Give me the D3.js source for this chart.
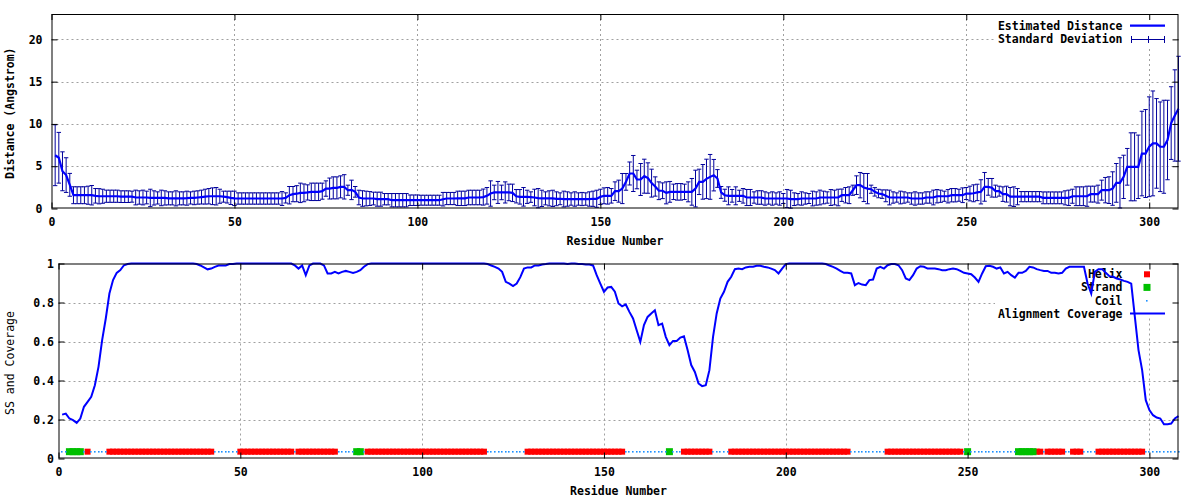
<!DOCTYPE html>
<html><head><meta charset="utf-8">
<script src="https://cdn.jsdelivr.net/npm/d3@7/dist/d3.min.js"></script>
<style>
body{margin:0;background:#fff}
svg{display:block}
text{font-family:"DejaVu Sans Mono",monospace;}
</style>
</head><body>
<svg id="chart" width="1200" height="500"></svg>
<script>
// ---------------- data (one value per residue, residue = index + 1) ----------------
const distance = [
6.3,6.0,4.4,3.95,2.8,1.57,1.57,1.57,1.57,1.57,
1.57,1.5,1.45,1.45,1.45,1.45,1.45,1.45,1.4,1.4,
1.4,1.4,1.3,1.3,1.3,1.3,1.25,1.25,1.25,1.25,
1.25,1.2,1.2,1.2,1.2,1.2,1.22,1.25,1.25,1.3,
1.35,1.4,1.45,1.45,1.45,1.45,1.4,1.35,1.26,1.2,
1.18,1.18,1.18,1.18,1.18,1.18,1.18,1.18,1.18,1.18,
1.18,1.18,1.18,1.25,1.57,1.7,1.75,1.85,1.85,1.9,
1.97,1.97,1.97,2.05,2.36,2.36,2.44,2.44,2.56,2.56,
2.16,2.2,1.97,1.3,1.18,1.18,1.18,1.18,1.1,1.1,
1.1,1.1,0.98,0.98,0.98,0.98,0.98,0.98,0.98,0.98,
0.98,0.98,0.98,0.98,0.98,0.98,1.1,1.18,1.18,1.18,
1.2,1.2,1.2,1.3,1.3,1.3,1.3,1.35,1.5,1.77,
1.9,1.9,1.9,1.9,1.9,1.85,1.45,1.38,1.38,1.38,
1.35,1.3,1.22,1.2,1.2,1.2,1.2,1.15,1.15,1.12,
1.12,1.12,1.12,1.12,1.12,1.12,1.12,1.15,1.15,1.38,
1.5,1.5,1.5,2.05,2.05,2.36,3.15,4.14,4.14,3.43,
3.43,3.82,3.6,3.0,2.6,2.1,2.1,1.85,1.97,1.97,
1.97,1.97,1.97,1.97,1.97,2.36,3.15,3.15,3.5,3.74,
3.94,3.55,1.9,1.57,1.5,1.5,1.5,1.5,1.5,1.3,
1.3,1.3,1.3,1.3,1.18,1.18,1.18,1.18,1.18,1.18,
1.18,1.1,1.1,1.1,1.18,1.18,1.18,1.18,1.18,1.3,
1.3,1.3,1.3,1.3,1.3,1.57,1.57,1.57,2.16,2.76,
2.76,2.48,2.35,2.28,1.97,1.77,1.7,1.5,1.3,1.3,
1.3,1.3,1.3,1.3,1.18,1.18,1.18,1.18,1.3,1.3,
1.3,1.45,1.45,1.45,1.45,1.57,1.57,1.57,1.57,1.77,
1.77,1.8,1.9,1.97,2.56,2.56,2.45,2.05,2.05,1.7,
1.7,1.4,1.4,1.4,1.4,1.4,1.4,1.4,1.4,1.4,
1.26,1.26,1.26,1.26,1.26,1.26,1.26,1.26,1.45,1.45,
1.45,1.45,1.45,1.7,1.7,1.7,2.17,2.17,2.17,2.36,
3.03,3.03,3.74,4.93,4.93,4.93,4.93,6.5,6.5,7.3,
7.7,7.7,7.3,7.3,8.1,10.1,11.0,11.8
];
const deviation = [
3.6,3.0,2.3,2.05,1.35,1.0,1.0,1.0,1.0,1.07,
1.15,0.86,0.9,0.83,0.72,0.72,0.72,0.72,0.69,0.69,
0.69,0.65,0.87,0.79,0.87,0.75,1.03,0.84,0.72,0.92,
0.84,0.77,0.77,0.89,0.77,0.77,0.83,0.72,0.8,0.79,
0.82,0.88,0.91,0.99,1.03,0.83,0.65,0.7,0.79,0.85,
0.67,0.67,0.67,0.67,0.67,0.67,0.67,0.67,0.67,0.67,
0.67,0.67,0.82,0.6,1.03,0.9,0.95,1.15,1.05,0.9,
1.03,1.03,1.03,0.95,0.91,1.24,1.3,1.3,1.3,1.44,
0.6,1.15,0.63,0.86,0.92,0.87,0.82,0.75,0.83,0.83,
0.67,0.67,0.79,0.79,0.79,0.79,0.79,0.62,0.62,0.62,
0.59,0.59,0.59,0.59,0.59,0.59,0.8,0.72,0.72,0.72,
0.85,0.85,0.85,0.86,0.86,0.86,0.86,0.95,0.98,1.5,
0.86,1.3,0.86,1.25,0.98,1.03,0.79,0.86,1.1,0.78,
0.62,0.98,1.14,0.96,0.77,0.89,0.96,0.82,0.7,0.93,
0.85,0.73,0.85,0.73,0.78,0.73,0.85,0.9,1.01,0.9,
0.94,0.98,0.86,1.1,1.3,1.78,0.99,1.36,2.13,1.1,
1.89,2.01,1.8,1.65,1.14,1.05,0.93,1.3,1.23,0.91,
0.98,0.98,0.91,1.18,1.58,2.17,1.5,2.05,2.33,2.65,
1.86,1.05,0.7,0.71,1.06,0.75,1.06,0.66,0.86,0.95,
0.95,0.67,0.8,0.8,0.79,0.67,0.79,0.67,0.79,0.59,
1.07,1.06,0.75,0.67,0.79,0.67,0.59,0.87,0.79,0.87,
0.75,0.67,0.94,0.87,0.98,0.73,0.91,0.99,0.6,1.1,
1.5,1.66,1.79,0.48,0.5,0.5,0.5,0.7,0.87,0.67,
0.55,0.75,0.67,0.55,0.67,0.79,0.67,0.67,0.67,0.67,
0.87,0.79,0.72,0.6,0.79,0.79,0.79,0.71,0.87,0.71,
0.87,1.0,0.97,1.43,1.7,0.99,1.1,0.71,0.59,0.86,
0.94,1.08,1.16,0.96,0.6,0.6,0.6,0.6,0.6,0.6,
0.7,0.7,0.7,0.7,0.7,0.7,0.83,0.91,0.83,1.11,
1.11,1.11,1.19,0.94,0.94,1.06,1.18,1.5,1.58,1.98,
2.29,2.97,2.56,2.17,4.02,4.02,3.75,5.0,5.2,5.9,
6.2,5.3,5.3,5.5,4.7,4.3,5.4,6.2
];
const coverage = [
0.225,0.23,0.205,0.197,0.183,0.205,0.265,0.29,0.316,0.376,
0.47,0.607,0.718,0.846,0.915,0.952,0.966,0.991,0.997,1,
1,1,1,1,1,1,1,1,1,1,
1,1,1,1,1,1,1,0.997,0.99,0.98,
0.97,0.974,0.983,0.99,0.99,0.99,0.997,0.997,1,1,
1,1,1,1,1,1,1,1,1,1,
1,1,1,1,0.99,0.974,0.99,0.94,0.99,1,
1,1,0.99,0.949,0.949,0.957,0.949,0.957,0.962,0.957,
0.952,0.957,0.966,0.983,0.997,1,1,1,1,1,
1,1,1,1,1,1,1,1,1,1,
1,1,1,1,1,1,1,1,1,1,
1,1,1,1,1,1,1,0.997,0.99,0.983,
0.974,0.957,0.906,0.897,0.884,0.897,0.93,0.974,0.98,0.98,
0.99,0.99,0.995,0.997,1,1,1,1,1,0.997,
1,1,0.997,0.997,0.995,0.995,0.99,0.94,0.897,0.855,
0.877,0.88,0.855,0.795,0.78,0.79,0.752,0.718,0.658,0.598,
0.684,0.726,0.744,0.76,0.684,0.692,0.624,0.581,0.603,0.603,
0.62,0.627,0.556,0.479,0.444,0.385,0.371,0.376,0.453,0.624,
0.744,0.82,0.855,0.906,0.932,0.971,0.974,0.971,0.98,0.983,
0.983,0.988,0.988,0.983,0.98,0.974,0.966,0.949,0.974,0.997,
1,1,1,1,1,1,1,1,1,1,
0.997,0.99,0.983,0.974,0.962,0.952,0.952,0.949,0.889,0.9,
0.892,0.889,0.915,0.918,0.974,0.983,0.974,0.991,0.997,0.997,
0.991,0.966,0.923,0.915,0.94,0.974,0.986,0.983,0.974,0.974,
0.974,0.971,0.966,0.966,0.971,0.974,0.971,0.962,0.952,0.949,
0.945,0.928,0.906,0.949,0.986,0.988,0.983,0.974,0.98,0.949,
0.957,0.94,0.928,0.952,0.952,0.962,0.983,0.98,0.971,0.966,
0.962,0.962,0.952,0.952,0.949,0.952,0.974,0.983,0.983,0.983,
0.983,0.983,0.897,0.846,0.957,0.971,0.971,0.952,0.935,0.932,
0.923,0.918,0.911,0.906,0.897,0.726,0.556,0.453,0.299,0.248,
0.222,0.21,0.205,0.176,0.176,0.179,0.205,0.217
];
// secondary structure as runs: [type, number of residues]
const ssRuns = [
["C",2],["E",4],["C",1],["H",1],["C",5],["H",29],["C",7],["H",15],["C",1],["H",11],
["C",5],["E",2],["C",1],["H",33],["C",11],["H",27],["C",12],["E",1],["C",3],["H",8],
["C",5],["H",33],["C",10],["H",21],["C",1],["E",1],["C",13],["E",5],["H",2],["C",1],
["H",5],["C",2],["H",3],["C",4],["H",13],["C",10]
];
const ssLevel = 0.035;
const residueTicks = [0,50,100,150,200,250,300];
const distTicks = [0,5,10,15,20];
const covTicks = [0,0.2,0.4,0.6,0.8,1];
const covTickLabels = ["0","0.2","0.4","0.6","0.8","1"];
const topLegend = ["Estimated Distance","Standard Deviation"];
const bottomLegend = ["Helix","Strand","Coil","Alignment Coverage"];

// ---------------- derived records ----------------
const ss = [];
ssRuns.forEach(([t,n]) => { for (let i=0;i<n;i++) ss.push(t); });
const rows = distance.map((d,i) => ({res:i+1, d, sd:deviation[i], cov:coverage[i], ss:ss[i]}));

const svg = d3.select("#chart");
const FONT = "DejaVu Sans Mono, monospace";
const FS = "11.5px";
const gridColor = "#a0a0a0";
const coilColor = "#1e90ff";

function panel(cfg){
  const g = svg.append("g");
  const x = d3.scaleLinear().domain([0,308]).range([cfg.left, cfg.right]);
  const y = d3.scaleLinear().domain(cfg.ydom).range([cfg.bottom, cfg.top]);
  g.append("g").selectAll("line").data(residueTicks.filter(t=>t>0&&t<308)).join("line")
    .attr("x1",d=>Math.round(x(d))+0.5).attr("x2",d=>Math.round(x(d))+0.5)
    .attr("y1",cfg.top).attr("y2",cfg.bottom)
    .attr("stroke",gridColor).attr("stroke-width",1).attr("stroke-dasharray","2,3");
  g.append("g").selectAll("line").data(cfg.yticks.filter(t=>t>cfg.ydom[0]&&t<cfg.ydom[1])).join("line")
    .attr("y1",d=>Math.round(y(d))+0.5).attr("y2",d=>Math.round(y(d))+0.5)
    .attr("x1",cfg.left).attr("x2",cfg.right)
    .attr("stroke",gridColor).attr("stroke-width",1).attr("stroke-dasharray","2,3");
  // opaque key background
  g.append("rect").attr("x",cfg.keyBox[0]).attr("y",cfg.top+1)
    .attr("width",cfg.right-cfg.keyBox[0]-1).attr("height",cfg.keyBox[1]-cfg.top)
    .attr("fill","#fff");
  return {g,x,y};
}

function frameAndAxes(p, cfg){
  const {g,x,y} = p;
  g.append("rect").attr("x",cfg.left+0.5).attr("y",cfg.top+0.5)
    .attr("width",cfg.right-cfg.left-1).attr("height",cfg.bottom-cfg.top-1)
    .attr("fill","none").attr("stroke","#000").attr("stroke-width",1);
  const ax = [
    g.append("g").attr("transform",`translate(0,${cfg.bottom})`)
      .call(d3.axisBottom(x).tickValues(residueTicks).tickSize(-6).tickPadding(9).tickFormat(d3.format("d"))),
    g.append("g").attr("transform",`translate(0,${cfg.top})`)
      .call(d3.axisTop(x).tickValues(residueTicks).tickSize(-6).tickFormat("")),
    g.append("g").attr("transform",`translate(${cfg.left},0)`)
      .call(d3.axisLeft(y).tickValues(cfg.yticks).tickSize(-6).tickPadding(cfg.ypad).tickFormat((d,i)=>cfg.ylabels[i])),
    g.append("g").attr("transform",`translate(${cfg.right},0)`)
      .call(d3.axisRight(y).tickValues(cfg.yticks).tickSize(-6).tickFormat(""))
  ];
  ax.forEach(a => {
    a.select(".domain").remove();
    a.selectAll("line").attr("stroke","#000");
    a.selectAll("text").attr("font-family",FONT).attr("font-size",FS).attr("font-weight","bold").attr("fill","#000");
  });
  g.append("text").attr("x",(cfg.left+cfg.right)/2).attr("y",cfg.bottom+36.5)
    .attr("text-anchor","middle").attr("font-family",FONT).attr("font-size",FS).attr("font-weight","bold")
    .text("Residue Number");
  g.append("text").attr("transform",`translate(14,${(cfg.top+cfg.bottom)/2+2}) rotate(-90)`)
    .attr("text-anchor","middle").attr("font-family",FONT).attr("font-size",FS)
    .attr("font-weight",cfg.ytitleWeight).text(cfg.ytitle);
}

// ---------------- top panel ----------------
const topCfg = {left:51.5,right:1178.5,top:14,bottom:208.5,ydom:[0,23],yticks:distTicks,
  ylabels:distTicks.map(String),ypad:9,keyBox:[995,45],ytitle:"Distance (Angstrom)",ytitleWeight:"bold"};
const pt = panel(topCfg);
{
  const {g,x,y} = pt;
  const eb = g.append("g").attr("stroke","#00009c").attr("stroke-width",1).attr("fill","none");
  const bars = eb.selectAll("g").data(rows).join("g");
  bars.append("line").attr("x1",d=>x(d.res)).attr("x2",d=>x(d.res))
    .attr("y1",d=>y(d.d-d.sd)).attr("y2",d=>y(d.d+d.sd));
  bars.append("line").attr("x1",d=>x(d.res)-2.2).attr("x2",d=>x(d.res)+2.2)
    .attr("y1",d=>y(d.d+d.sd)).attr("y2",d=>y(d.d+d.sd));
  bars.append("line").attr("x1",d=>x(d.res)-2.2).attr("x2",d=>x(d.res)+2.2)
    .attr("y1",d=>y(d.d-d.sd)).attr("y2",d=>y(d.d-d.sd));
  g.append("path").datum(rows)
    .attr("d",d3.line().x(d=>x(d.res)).y(d=>y(d.d)))
    .attr("fill","none").attr("stroke","#0000ff").attr("stroke-width",2.2);
  frameAndAxes(pt, topCfg);
  const lg = g.append("g").attr("font-family",FONT).attr("font-size",FS).attr("font-weight","bold");
  lg.selectAll("text").data(topLegend).join("text")
    .attr("x",1122.5).attr("y",(d,i)=>25.7+i*13.3).attr("dy","0.35em")
    .attr("text-anchor","end").text(d=>d);
  g.append("line").attr("x1",1130).attr("x2",1165).attr("y1",25.7).attr("y2",25.7)
    .attr("stroke","#0000ff").attr("stroke-width",2.2);
  const ly = 39;
  const s = g.append("g").attr("stroke","#00009c").attr("stroke-width",1);
  s.append("line").attr("x1",1131).attr("x2",1165).attr("y1",ly+0.5).attr("y2",ly+0.5);
  [1131.5,1148.5,1164.5].forEach(xx=>{
    s.append("line").attr("x1",xx).attr("x2",xx).attr("y1",ly-3).attr("y2",ly+4);
  });
}

// ---------------- bottom panel ----------------
const botCfg = {left:58.5,right:1178.5,top:263.5,bottom:458.5,ydom:[0,1],yticks:covTicks,
  ylabels:covTickLabels,ypad:4.5,keyBox:[995,317],ytitle:"SS and Coverage",ytitleWeight:"normal"};
const pb = panel(botCfg);
{
  const {g,x,y} = pb;
  const lg = g.append("g").attr("font-family",FONT).attr("font-size",FS).attr("font-weight","bold");
  lg.selectAll("text").data(bottomLegend).join("text")
    .attr("x",1122.5).attr("y",(d,i)=>274.3+i*13.1).attr("dy","0.35em")
    .attr("text-anchor","end").text(d=>d);
  const yy = y(ssLevel);
  g.append("g").selectAll("rect").data(rows.filter(d=>d.ss==="H")).join("rect")
    .attr("x",d=>x(d.res)-3).attr("y",yy-3).attr("width",6).attr("height",6).attr("fill","#ff0000");
  g.append("g").selectAll("rect").data(rows.filter(d=>d.ss==="E")).join("rect")
    .attr("x",d=>x(d.res)-3.5).attr("y",yy-3.5).attr("width",7).attr("height",7).attr("fill","#00c000");
  g.append("g").selectAll("rect").data(rows.filter(d=>d.ss==="C")).join("rect")
    .attr("x",d=>Math.round(x(d.res))-1).attr("y",Math.round(yy)-1).attr("width",1.6).attr("height",1.6).attr("fill",coilColor);
  g.append("rect").attr("x",1144).attr("y",274.3-3).attr("width",6).attr("height",6).attr("fill","#ff0000");
  g.append("rect").attr("x",1143.5).attr("y",287.4-3.5).attr("width",7).attr("height",7).attr("fill","#00c000");
  g.append("rect").attr("x",1146).attr("y",300).attr("width",1.6).attr("height",1.6).attr("fill",coilColor);
  g.append("line").attr("x1",1130).attr("x2",1165).attr("y1",313.6).attr("y2",313.6)
    .attr("stroke","#0000ff").attr("stroke-width",2);
  g.append("path").datum(rows)
    .attr("d",d3.line().x(d=>x(d.res)).y(d=>y(d.cov)))
    .attr("fill","none").attr("stroke","#0000ff").attr("stroke-width",2);
  frameAndAxes(pb, botCfg);
}
</script>
</body></html>
